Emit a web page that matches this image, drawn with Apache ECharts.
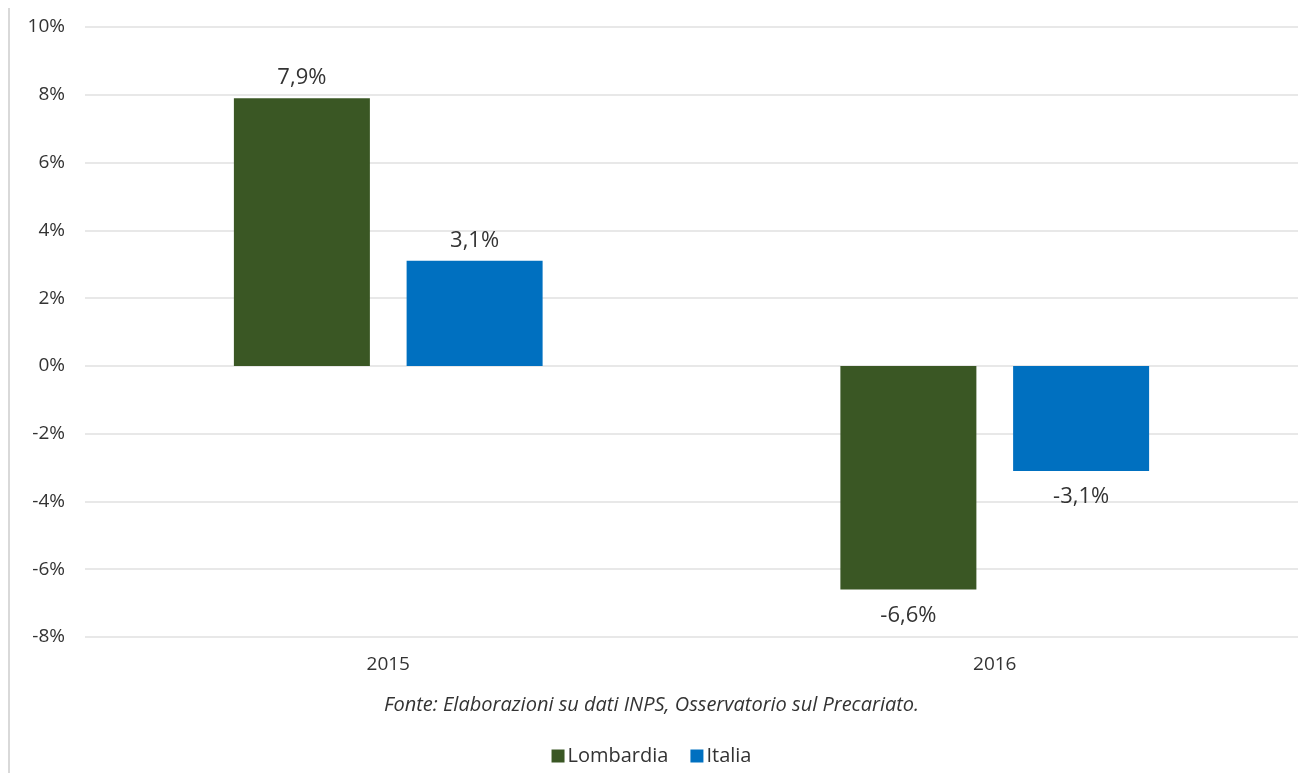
<!DOCTYPE html>
<html>
<head>
<meta charset="utf-8">
<script src="https://cdn.jsdelivr.net/npm/echarts@6/dist/echarts.min.js"></script>
<style>
html,body{margin:0;padding:0;background:#fff;}
#chart{width:1303px;height:773px;position:relative;}
#chart:before{content:"";position:absolute;left:8px;top:8px;bottom:0;border-left:2px solid #d9d9d9;z-index:2;}
</style>
</head>
<body>
<div id="chart"></div>
<script>
// dati
var anni = ['2015', '2016'];
var lombardia = [7.9, -6.6];
var italia = [3.1, -3.1];
var fonte = 'Fonte: Elaborazioni su dati INPS, Osservatorio sul Precariato.';

var font = '"Open Sans", "Noto Sans", sans-serif';
function pct(v) {
    return v.toFixed(1).replace('.', ',') + '%';
}
// etichette sotto la barra un po' più distanti
function punti(arr) {
    return arr.map(function (v) {
        return {value: v, label: {distance: v < 0 ? 15 : 9}};
    });
}

var myChart = echarts.init(document.getElementById('chart'));
var option = {
    animation: false,
    textStyle: {fontFamily: font},
    grid: {left: 85, right: 5, top: 27, bottom: 136, containLabel: false},
    title: {
        text: fonte,
        left: 'center',
        top: 690,
        textStyle: {fontFamily: font, fontStyle: 'italic', fontWeight: 'normal', fontSize: 20, color: '#333'}
    },
    legend: {
        data: ['Lombardia', 'Italia'],
        left: 'center',
        top: 741,
        icon: 'rect',
        itemWidth: 13,
        itemHeight: 13,
        itemGap: 22,
        textStyle: {fontFamily: font, fontSize: 20, color: '#333', padding: [0, 0, 0, -2]}
    },
    xAxis: {
        type: 'category',
        data: anni,
        axisLine: {show: false},
        axisTick: {show: false},
        axisLabel: {fontSize: 19, color: '#333', margin: 18, fontFamily: font}
    },
    yAxis: {
        type: 'value',
        min: -8,
        max: 10,
        interval: 2,
        axisLine: {show: false},
        axisTick: {show: false},
        axisLabel: {
            fontSize: 19, color: '#333', margin: 20, fontFamily: font,
            formatter: function (v) { return v + '%'; }
        },
        splitLine: {lineStyle: {color: '#e0e0e0', width: 1.5}}
    },
    series: [
        {
            name: 'Lombardia',
            type: 'bar',
            data: punti(lombardia),
            barWidth: 136,
            barGap: '27%',
            itemStyle: {color: '#3a5724'},
            label: {
                show: true, position: 'outside', fontSize: 22, color: '#333', fontFamily: font,
                formatter: function (p) { return pct(p.value); }
            }
        },
        {
            name: 'Italia',
            type: 'bar',
            data: punti(italia),
            barWidth: 136,
            itemStyle: {color: '#0070c0'},
            label: {
                show: true, position: 'outside', fontSize: 22, color: '#333', fontFamily: font,
                formatter: function (p) { return pct(p.value); }
            }
        }
    ]
};
myChart.setOption(option);
</script>
</body>
</html>
